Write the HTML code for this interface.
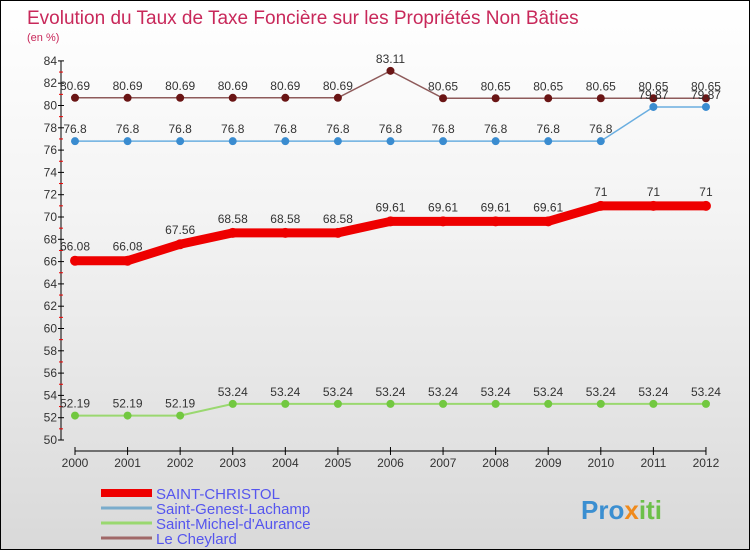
<!DOCTYPE html>
<html><head><meta charset="utf-8"><style>
body{margin:0}
#c{width:748px;height:548px;border:1px solid #000;background:linear-gradient(#fff,#f3f3f3 40%,#d9d9d9);position:relative;font-family:"Liberation Sans",sans-serif}
</style></head><body>
<div id="c">
<svg id="s" width="748" height="548" xmlns="http://www.w3.org/2000/svg" style="position:absolute;left:0;top:0" font-family="Liberation Sans, sans-serif">
<text x="26" y="23" font-size="19" fill="#c8285a">Evolution du Taux de Taxe Foncière sur les Propriétés Non Bâties</text>
<text x="26" y="40" font-size="11" fill="#c8285a">(en %)</text>
<g id="axes"></g><g id="series"></g><g id="legend"></g>
<text x="580" y="518" font-size="26" font-weight="bold" fill="#3b8fd1">Pro<tspan fill="#f08a1c">x</tspan><tspan fill="#6cc04a">iti</tspan></text>
</svg></div>
<script>
const years=[2000,2001,2002,2003,2004,2005,2006,2007,2008,2009,2010,2011,2012];
const yTicks=[50,52,54,56,58,60,62,64,66,68,70,72,74,76,78,80,82,84];
const saintChristol=[66.08,66.08,67.56,68.58,68.58,68.58,69.61,69.61,69.61,69.61,71,71,71];
const saintGenest=[76.8,76.8,76.8,76.8,76.8,76.8,76.8,76.8,76.8,76.8,76.8,79.87,79.87];
const saintMichel=[52.19,52.19,52.19,53.24,53.24,53.24,53.24,53.24,53.24,53.24,53.24,53.24,53.24];
const cheylard=[80.69,80.69,80.69,80.69,80.69,80.69,83.11,80.65,80.65,80.65,80.65,80.65,80.65];
const names=["SAINT-CHRISTOL","Saint-Genest-Lachamp","Saint-Michel-d'Aurance","Le Cheylard"];
const NS="http://www.w3.org/2000/svg";
const X=i=>74+i*52.58, Y=v=>439-(v-50)*11.15;
function el(t,a,p,txt){const e=document.createElementNS(NS,t);for(const k in a)e.setAttribute(k,a[k]);if(txt!==undefined)e.textContent=txt;p.appendChild(e);return e;}
const ax=document.getElementById('axes');
let l=el('line',{x1:60,y1:Y(84),x2:60,y2:Y(50),stroke:'#000'},ax);


yTicks.forEach(v=>{
  el('line',{x1:57,y1:Y(v),x2:63,y2:Y(v),stroke:'#000'},ax);
  if(v<84) el('line',{x1:58,y1:Y(v+1),x2:62,y2:Y(v+1),stroke:'#e00'},ax);
  const t=el('text',{x:56,y:Y(v)+4,'font-size':12,'text-anchor':'end',fill:'#333'},ax,v);
  
  
});
l=el('line',{x1:X(0),y1:450,x2:X(12),y2:450,stroke:'#000'},ax);


years.forEach((y,i)=>{
  el('line',{x1:X(i),y1:446,x2:X(i),y2:454,stroke:'#000'},ax);
  const t=el('text',{x:X(i),y:466,'font-size':12,'text-anchor':'middle',fill:'#333'},ax,y);
  
  
});
const sg=document.getElementById('series');
function series(data,color,w,r,dot,name){
  const g=el('g',{},sg);
  
  
  el('polyline',{points:data.map((v,i)=>X(i)+','+Y(v)).join(' '),fill:'none',stroke:color,'stroke-width':w},g);
  data.forEach((v,i)=>{
    const c=el('circle',{cx:X(i),cy:Y(v),r:r,fill:dot},g);
    
    
    const t=el('text',{x:X(i),y:Y(v)-8-(w>4?2:0),'font-size':12,'text-anchor':'middle',fill:'#333'},g,v);
    
    
  });
}
series(cheylard,'#8e5a5a',1.5,4,'#6a1515','series-le-cheylard');
series(saintGenest,'#6aaee0',1.5,4,'#3a8cd0','series-saint-genest');
series(saintMichel,'#9ad870',2,4,'#72c840','series-saint-michel');
series(saintChristol,'#ee0000',9,5,'#ee0000','series-saint-christol');
const lg=document.getElementById('legend');
const lc=['#ee0000','#7aaccc','#9ad870','#a06868'],lw=[8,3,3,3];
names.forEach((n,i)=>{
  const yy=492+i*15;
  const g=el('g',{},lg);
  
  
  el('line',{x1:100,y1:yy,x2:151,y2:yy,stroke:lc[i],'stroke-width':lw[i]},g);
  el('text',{x:155,y:yy+6,'font-size':15,fill:'#5555ee'},g,n);
});
</script></body></html>
